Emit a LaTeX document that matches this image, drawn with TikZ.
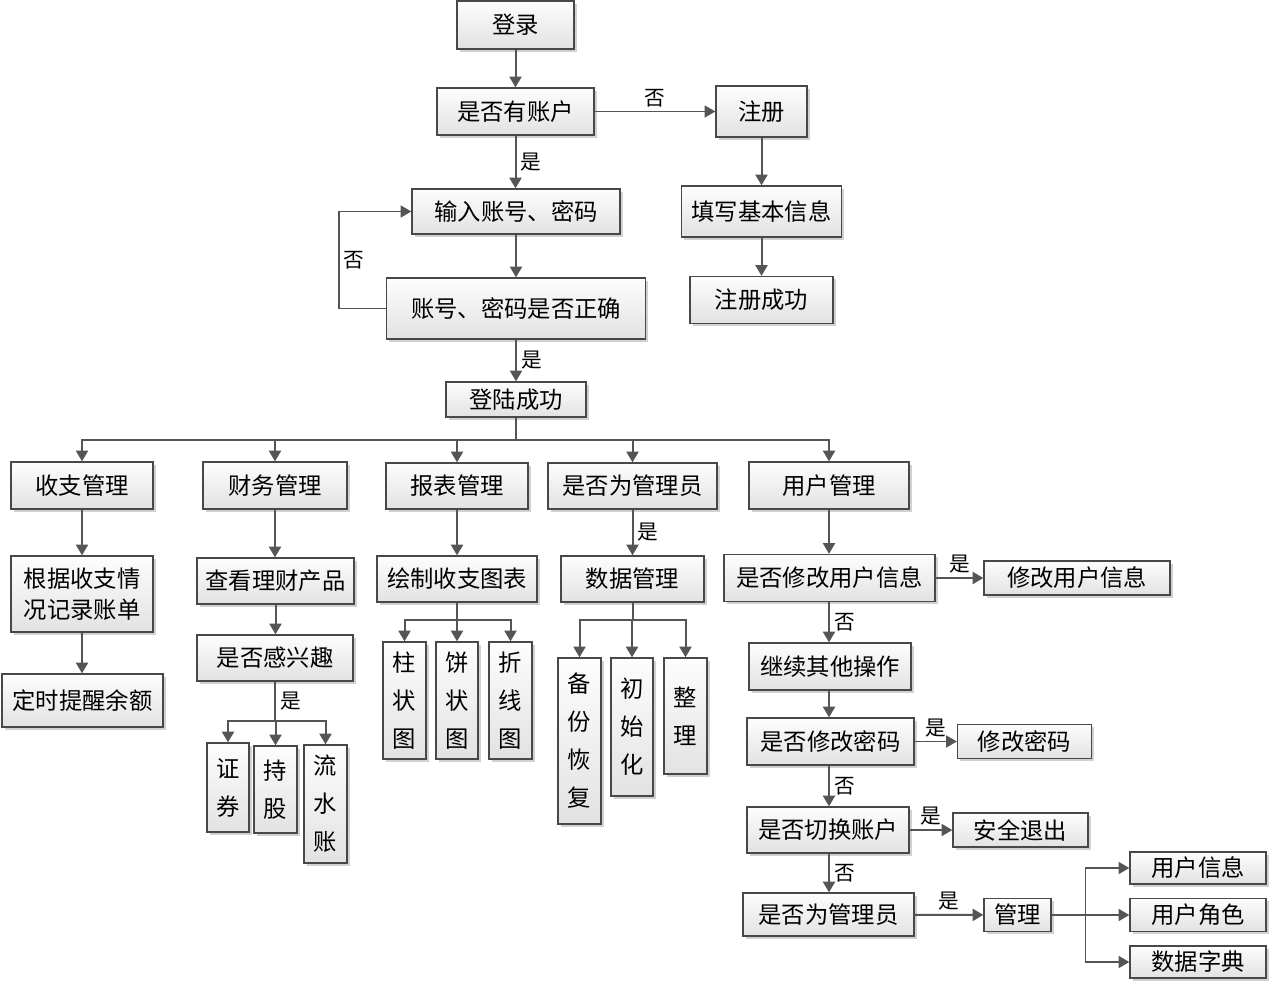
\documentclass[tikz,border=0pt]{standalone}
\usepackage{fontspec}
\setmainfont{Noto Sans CJK SC}
\usepackage{xcolor}
\usepackage{tikz}
\usetikzlibrary{arrows.meta,shadows}
\definecolor{linegray}{RGB}{85,85,85}
\definecolor{boxedge}{RGB}{72,72,72}
\definecolor{boxtop}{RGB}{253,253,253}
\definecolor{boxbottom}{RGB}{226,226,226}

\begin{document}
\begin{tikzpicture}[x=0.75pt, y=-0.75pt,
  flowbox/.style={draw=boxedge, line width=1pt, top color=boxtop, bottom color=boxbottom,
    drop shadow={shadow xshift=2pt, shadow yshift=-2pt, fill=black!18, opacity=1},
    inner sep=0pt, align=center, font=\fontsize{17.5}{23}\selectfont},
  vertbox/.style={flowbox, font=\fontsize{17.5}{28.5}\selectfont},
  wh/.style 2 args={minimum width=#1*0.75pt, minimum height=#2*0.75pt},
  flowline/.style={draw=linegray, line width=1.5pt},
  flowarrow/.style={flowline, -{Triangle[length=8pt,width=9pt]}},
  thinarrow/.style={flowarrow, line width=1.1pt},
  yesno/.style={font=\fontsize{15.5}{18}\selectfont, inner sep=3pt}]

  \useasboundingbox (0,0) rectangle (1269,983);

  % login part
  \node[flowbox, wh={117}{48}] (login) at (515.5,25) {登录};
  \node[flowbox, wh={157}{47}] (hasacct) at (515.5,111.5) {是否有账户};
  \node[flowbox, wh={91}{51}] (reg) at (761.5,111.5) {注册};
  \node[flowbox, wh={208}{45}] (input) at (516,211.5) {输入账号、密码};
  \node[flowbox, wh={160}{51}] (fillinfo) at (761.5,211.5) {填写基本信息};
  \node[flowbox, wh={259}{61}] (check) at (516,308.5) {账号、密码是否正确};
  \node[flowbox, wh={143}{47}] (regok) at (761.5,300) {注册成功};
  \node[flowbox, wh={140}{35}] (success) at (516,399.5) {登陆成功};

  \draw[flowarrow] (login.south) -- (login.south |- hasacct.north);
  \draw[thinarrow] (hasacct) -- node[yesno, above] {否} (reg);
  \draw[flowarrow] (hasacct.south) -- node[yesno, right] {是} (hasacct.south |- input.north);
  \draw[flowarrow] (input.south) -- (input.south |- check.north);
  \draw[thinarrow] (check.west) -- ++(-47,0) |- node[yesno, pos=0.25, right] {否} (input.west);
  \draw[flowarrow] (check.south) -- node[yesno, right] {是} (check.south |- success.north);
  \draw[flowarrow] (reg) -- (fillinfo);
  \draw[flowarrow] (fillinfo) -- (regok);

  % modules
  \node[flowbox, wh={142}{47}] (income) at (82,485.5) {收支管理};
  \node[flowbox, wh={144}{47}] (finance) at (275,485.5) {财务管理};
  \node[flowbox, wh={142}{46}] (report) at (457,486) {报表管理};
  \node[flowbox, wh={169}{46}] (isadmin) at (632.5,486) {是否为管理员};
  \node[flowbox, wh={160}{47}] (usermgr) at (829,485.5) {用户管理};

  \draw[flowline] (success.south) -- ++(0,22) coordinate (busmain);
  \foreach \m in {income,finance,report,isadmin,usermgr}
    \draw[flowarrow] (busmain) -| (\m.north);

  % income
  \node[flowbox, wh={142}{76}] (record) at (82,594) {根据收支情\\况记录账单};
  \node[flowbox, wh={161}{53}] (remind) at (82.5,700.5) {定时提醒余额};
  \draw[flowarrow] (income.south) -- (income.south |- record.north);
  \draw[flowarrow] (record.south) -- (record.south |- remind.north);

  % finance
  \node[flowbox, wh={157}{46}] (viewprod) at (275.5,581) {查看理财产品};
  \node[flowbox, wh={156}{46}] (interest) at (275,658) {是否感兴趣};
  \node[vertbox, wh={42}{89}] (stock) at (228,787.5) {证\\券};
  \node[vertbox, wh={43}{87}] (share) at (275.5,789.5) {持\\股};
  \node[vertbox, wh={43}{118}] (flowacct) at (325.5,804) {流\\水\\账};
  \draw[flowarrow] (finance.south) -- (finance.south |- viewprod.north);
  \draw[flowarrow] (viewprod.south) -- (viewprod.south |- interest.north);
  \draw[flowline] (interest.south) -- node[yesno, right] {是} ++(0,39) coordinate (busfin);
  \foreach \m in {stock,share,flowacct}
    \draw[flowarrow] (busfin) -| (\m.north);

  % report
  \node[flowbox, wh={160}{46}] (chart) at (457,579) {绘制收支图表};
  \node[vertbox, wh={43}{117}] (bar) at (404.5,700.5) {柱\\状\\图};
  \node[vertbox, wh={42}{117}] (pie) at (457,700.5) {饼\\状\\图};
  \node[vertbox, wh={43}{117}] (polyline) at (510.5,700.5) {折\\线\\图};
  \draw[flowarrow] (report.south) -- (report.south |- chart.north);
  \draw[flowline] (chart.south) -- ++(0,17) coordinate (busrep);
  \foreach \m in {bar,pie,polyline}
    \draw[flowarrow] (busrep) -| (\m.north);

  % data
  \node[flowbox, wh={143}{46}] (datamgr) at (632.5,579) {数据管理};
  \node[vertbox, wh={43}{166}] (backup) at (579.5,741) {备\\份\\恢\\复};
  \node[vertbox, wh={42}{138}] (init) at (632,727) {初\\始\\化};
  \node[vertbox, wh={43}{116}] (tidy) at (685.5,716) {整\\理};
  \draw[flowarrow] (isadmin.south) -- node[yesno, right] {是} (isadmin.south |- datamgr.north);
  \draw[flowline] (datamgr.south) -- ++(0,17) coordinate (busdata);
  \foreach \m in {backup,init,tidy}
    \draw[flowarrow] (busdata) -| (\m.north);

  % user
  \node[flowbox, wh={211}{47}] (modinfo) at (829.5,578) {是否修改用户信息};
  \node[flowbox, wh={186}{34}] (modinfodo) at (1077,578) {修改用户信息};
  \node[flowbox, wh={162}{47}] (goon) at (830,666.5) {继续其他操作};
  \node[flowbox, wh={167}{47}] (modpw) at (830.5,741.5) {是否修改密码};
  \node[flowbox, wh={134}{34}] (modpwdo) at (1024.5,741.5) {修改密码};
  \node[flowbox, wh={162}{46}] (switch) at (828,830) {是否切换账户};
  \node[flowbox, wh={135}{34}] (quit) at (1020.5,830) {安全退出};
  \node[flowbox, wh={171}{43}] (isadmin2) at (828.5,914.5) {是否为管理员};
  \node[flowbox, wh={67}{33}] (manage) at (1017.5,915) {管理};
  \node[flowbox, wh={136}{32}] (uinfo) at (1198,868) {用户信息};
  \node[flowbox, wh={136}{33}] (urole) at (1198,915) {用户角色};
  \node[flowbox, wh={136}{32}] (dict) at (1198,962) {数据字典};

  \draw[flowarrow] (usermgr.south) -- (usermgr.south |- modinfo.north);
  \draw[flowarrow] (modinfo) -- node[yesno, above] {是} (modinfodo);
  \draw[flowarrow] (usermgr.south |- modinfo.south) -- node[yesno, right] {否} (usermgr.south |- goon.north);
  \draw[flowarrow] (usermgr.south |- goon.south) -- (usermgr.south |- modpw.north);
  \draw[thinarrow] (modpw) -- node[yesno, above] {是} (modpwdo);
  \draw[flowarrow] (usermgr.south |- modpw.south) -- node[yesno, right] {否} (usermgr.south |- switch.north);
  \draw[thinarrow] (switch) -- node[yesno, above] {是} (quit);
  \draw[flowarrow] (usermgr.south |- switch.south) -- node[yesno, right] {否} (usermgr.south |- isadmin2.north);
  \draw[flowarrow] (isadmin2) -- node[yesno, above] {是} (manage);
  \draw[thinarrow] (manage) -- (urole);
  \draw[thinarrow] (manage.east) ++(34,0) coordinate (busmgr) |- (uinfo.west);
  \draw[thinarrow] (busmgr) |- (dict.west);

\end{tikzpicture}
\end{document}
